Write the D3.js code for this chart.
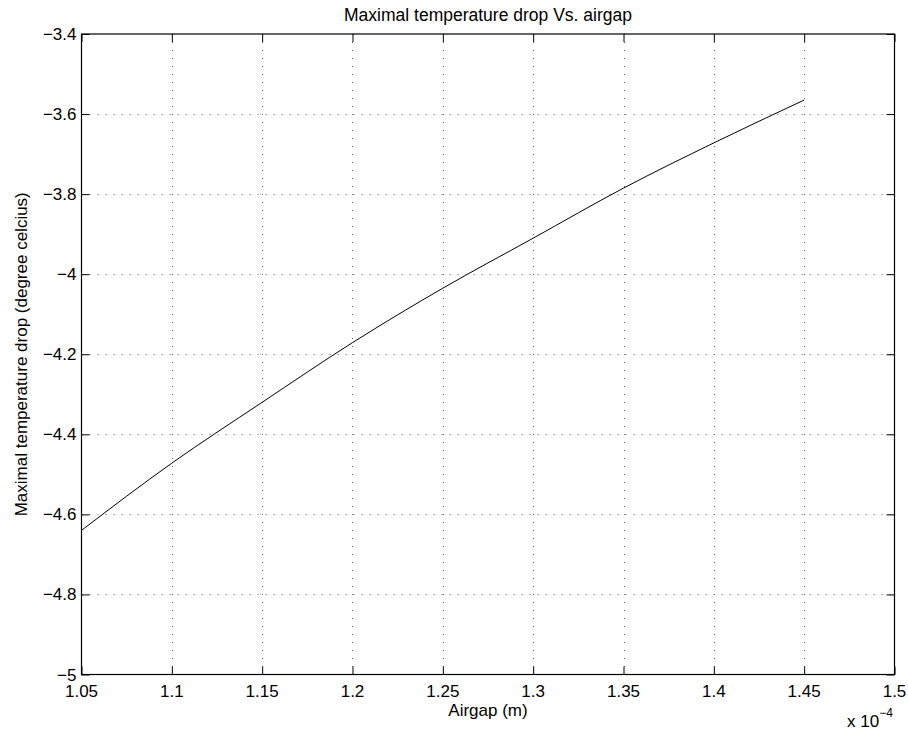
<!DOCTYPE html>
<html>
<head>
<meta charset="utf-8">
<script src="https://cdn.jsdelivr.net/npm/d3@7"></script>
<style>
    body { margin: 0; background: #fff; }
    svg { font-family: "Liberation Sans", Arial, sans-serif; }
</style>
</head>
<body>
<script>
    // airgap in units of 1e-4 m
    var airgap = [1.05, 1.10, 1.15, 1.20, 1.25, 1.30, 1.35, 1.40, 1.45];
    var tempDrop = [-4.64, -4.472, -4.32, -4.171, -4.035, -3.91, -3.785, -3.672, -3.565];
    var xTicks = [1.05, 1.1, 1.15, 1.2, 1.25, 1.3, 1.35, 1.4, 1.45, 1.5];
    var yTicks = [-5, -4.8, -4.6, -4.4, -4.2, -4, -3.8, -3.6, -3.4];

(function () {
    var width = 908,
        height = 732;
    var mLeft = 81.5, mRight = 894.5, mTop = 34, mBottom = 674.5;
    var fs = 17;

    var svg = d3.select("body")
        .append("svg")
        .attr("width", width)
        .attr("height", height);

    var x = d3.scaleLinear().domain([1.05, 1.5]).range([mLeft, mRight]);
    var y = d3.scaleLinear().domain([-5, -3.4]).range([mBottom, mTop]);

    function fmt(v) {
        return String(+v.toFixed(2)).replace("-", "\u2212");
    }

    // grid
    var grid = svg.append("g")
        .attr("stroke", "#000")
        .attr("stroke-width", 1)
        .attr("stroke-dasharray", "1,7")
        .attr("opacity", 0.6);
    grid.selectAll("line.gx")
        .data(xTicks.slice(1, -1))
        .enter().append("line")
        .attr("x1", function (d) { return Math.round(x(d)) + 0.5; })
        .attr("x2", function (d) { return Math.round(x(d)) + 0.5; })
        .attr("y1", mTop)
        .attr("y2", mBottom);
    grid.selectAll("line.gy")
        .data(yTicks.slice(1, -1))
        .enter().append("line")
        .attr("y1", function (d) { return Math.round(y(d)) + 0.5; })
        .attr("y2", function (d) { return Math.round(y(d)) + 0.5; })
        .attr("x1", mLeft)
        .attr("x2", mRight);

    // inward ticks on all sides
    var tl = 8;
    function noDomain(g) { g.select(".domain").remove(); }
    svg.append("g")
        .attr("transform", "translate(0," + mTop + ")")
        .call(d3.axisBottom(x).tickValues(xTicks).tickSize(tl).tickFormat(""))
        .call(noDomain);
    svg.append("g")
        .attr("transform", "translate(0," + mBottom + ")")
        .call(d3.axisTop(x).tickValues(xTicks).tickSize(tl).tickFormat(""))
        .call(noDomain);
    svg.append("g")
        .attr("transform", "translate(" + mLeft + ",0)")
        .call(d3.axisRight(y).tickValues(yTicks).tickSize(tl).tickFormat(""))
        .call(noDomain);
    svg.append("g")
        .attr("transform", "translate(" + mRight + ",0)")
        .call(d3.axisLeft(y).tickValues(yTicks).tickSize(tl).tickFormat(""))
        .call(noDomain);

    // frame
    svg.append("rect")
        .attr("x", mLeft)
        .attr("y", mTop)
        .attr("width", mRight - mLeft)
        .attr("height", mBottom - mTop)
        .attr("fill", "none")
        .attr("stroke", "#000")
        .attr("stroke-width", 1.2);

    // tick labels
    svg.append("g").selectAll("text")
        .data(xTicks)
        .enter().append("text")
        .attr("x", function (d) { return x(d); })
        .attr("y", mBottom + 22)
        .attr("text-anchor", "middle")
        .attr("font-size", fs)
        .text(fmt);
    svg.append("g").selectAll("text")
        .data(yTicks)
        .enter().append("text")
        .attr("x", mLeft - 5)
        .attr("y", function (d) { return y(d) + 6; })
        .attr("text-anchor", "end")
        .attr("font-size", fs)
        .text(fmt);

    // curve
    var line = d3.line()
        .x(function (d, i) { return x(airgap[i]); })
        .y(function (d) { return y(d); })
        .curve(d3.curveMonotoneX);
    svg.append("path")
        .datum(tempDrop)
        .attr("d", line)
        .attr("fill", "none")
        .attr("stroke", "#000")
        .attr("stroke-width", 1);

    // labels
    svg.append("text")
        .attr("x", (mLeft + mRight) / 2)
        .attr("y", 21)
        .attr("text-anchor", "middle")
        .attr("font-size", 17.5)
        .text("Maximal temperature drop Vs. airgap");
    svg.append("text")
        .attr("x", (mLeft + mRight) / 2)
        .attr("y", 716)
        .attr("text-anchor", "middle")
        .attr("font-size", fs)
        .text("Airgap (m)");
    svg.append("text")
        .attr("transform", "translate(27," + ((mTop + mBottom) / 2) + ") rotate(-90)")
        .attr("text-anchor", "middle")
        .attr("font-size", fs)
        .text("Maximal temperature drop (degree celcius)");

    var exp = svg.append("text")
        .attr("x", 847)
        .attr("y", 727)
        .attr("font-size", fs);
    exp.append("tspan").text("x 10");
    exp.append("tspan")
        .attr("dy", -10)
        .attr("font-size", 12)
        .text("\u22124");
}());
</script>
</body>
</html>
